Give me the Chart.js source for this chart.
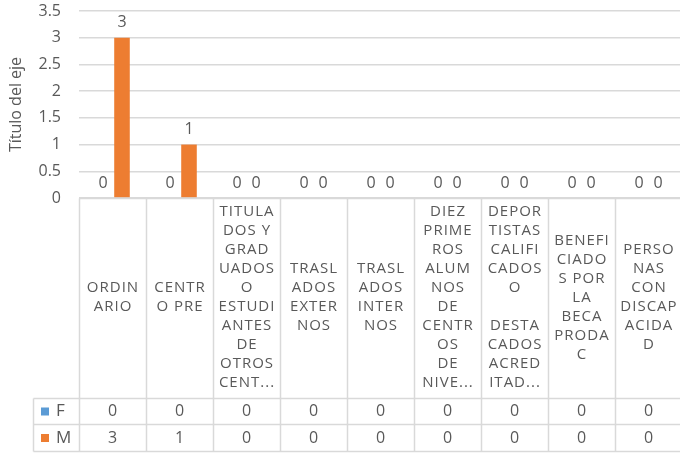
<!DOCTYPE html>
<html>
<head>
<meta charset="utf-8">
<script src="https://cdn.jsdelivr.net/npm/chart.js@4.4.0/dist/chart.umd.min.js"></script>
<style>
html, body { margin: 0; padding: 0; background: #fff; overflow: hidden; }
#wrap { width: 684px; height: 456px; }
</style>
</head>
<body>
<div id="wrap"><canvas id="bars" width="684" height="456"></canvas></div>
<script>
// categories as Excel wrapped them inside the data table
var categories = [
    ['ORDIN', 'ARIO'],
    ['CENTR', 'O PRE'],
    ['TITULA', 'DOS Y', 'GRAD', 'UADOS', 'O', 'ESTUDI', 'ANTES', 'DE', 'OTROS', 'CENT...'],
    ['TRASL', 'ADOS', 'EXTER', 'NOS'],
    ['TRASL', 'ADOS', 'INTER', 'NOS'],
    ['DIEZ', 'PRIME', 'ROS', 'ALUM', 'NOS', 'DE', 'CENTR', 'OS', 'DE', 'NIVE...'],
    ['DEPOR', 'TISTAS', 'CALIFI', 'CADOS', 'O', '', 'DESTA', 'CADOS', 'ACRED', 'ITAD...'],
    ['BENEFI', 'CIADO', 'S POR', 'LA', 'BECA', 'PRODA', 'C'],
    ['PERSO', 'NAS', 'CON', 'DISCAP', 'ACIDA', 'D']
];
var seriesNames = ['F', 'M'];
var valuesF = [0, 0, 0, 0, 0, 0, 0, 0, 0];
var valuesM = [3, 1, 0, 0, 0, 0, 0, 0, 0];
var axisTitle = 'Título del eje';

var FONT = '"Open Sans", sans-serif';
var GREY = '#595959';
var LINE = '#d9d9d9';
var colors = ['#5B9BD5', '#ED7D31'];

// value labels over each bar
var barLabels = {
    id: 'barLabels',
    afterDatasetsDraw: function (chart) {
        var ctx = chart.ctx;
        ctx.save();
        ctx.font = '16px ' + FONT;
        ctx.fillStyle = GREY;
        ctx.textAlign = 'center';
        ctx.textBaseline = 'middle';
        chart.data.datasets.forEach(function (ds, i) {
            chart.getDatasetMeta(i).data.forEach(function (bar, j) {
                ctx.fillText(String(ds.data[j]), bar.x, bar.y - 15);
            });
        });
        ctx.restore();
    }
};

// data table under the plot
var dataTable = {
    id: 'dataTable',
    afterDraw: function (chart) {
        var ctx = chart.ctx;
        var xs = chart.scales.x;
        var top = Math.round(chart.chartArea.bottom) + 0.5;
        var labelBottom = 398.5, rowF = 424.5, rowM = 451.5, legLeft = 33.5;
        var n = categories.length;
        var w = (xs.right - xs.left) / n;
        ctx.save();
        ctx.strokeStyle = LINE;
        ctx.lineWidth = 1.5;
        ctx.beginPath();
        ctx.moveTo(xs.left, top); ctx.lineTo(xs.right, top);
        [labelBottom, rowF, rowM].forEach(function (y) {
            ctx.moveTo(legLeft, y); ctx.lineTo(xs.right, y);
        });
        for (var i = 0; i <= n; i++) {
            var x = Math.round(xs.left + i * w) + 0.5;
            ctx.moveTo(x, top); ctx.lineTo(x, rowM);
        }
        ctx.moveTo(legLeft, labelBottom); ctx.lineTo(legLeft, rowM);
        ctx.stroke();

        ctx.fillStyle = GREY;
        ctx.font = '15px ' + FONT;
        ctx.letterSpacing = '1px';
        ctx.textAlign = 'center';
        ctx.textBaseline = 'middle';
        var lh = 19;
        var mid = (top + labelBottom) / 2 - 1;
        categories.forEach(function (lines, i) {
            var cx = xs.getPixelForValue(i) + 0.5;
            var y0 = mid - (lines.length - 1) * lh / 2;
            lines.forEach(function (t, k) {
                ctx.fillText(t, cx, y0 + k * lh);
            });
        });
        ctx.letterSpacing = '0px';

        var rows = [valuesF, valuesM];
        var rowMid = [(labelBottom + rowF) / 2, (rowF + rowM) / 2];
        rows.forEach(function (vals, r) {
            ctx.font = '16px ' + FONT;
            ctx.textAlign = 'center';
            vals.forEach(function (v, i) {
                ctx.fillText(String(v), xs.getPixelForValue(i), rowMid[r]);
            });
            ctx.fillStyle = colors[r];
            ctx.fillRect(41, rowMid[r] - 4, 8, 8);
            ctx.fillStyle = GREY;
            ctx.textAlign = 'left';
            ctx.font = '17px ' + FONT;
            ctx.fillText(seriesNames[r], 56, rowMid[r]);
        });
        ctx.restore();
    }
};

var bars = new Chart(document.getElementById('bars'), {
    type: 'bar',
    data: {
        labels: categories,
        datasets: [{
            label: seriesNames[0],
            data: valuesF,
            backgroundColor: colors[0]
        }, {
            label: seriesNames[1],
            data: valuesM,
            backgroundColor: colors[1]
        }]
    },
    options: {
        responsive: false,
        animation: false,
        layout: {
            padding: { top: 11, bottom: 258, left: 0, right: 2 }
        },
        datasets: {
            bar: { categoryPercentage: 0.567, barPercentage: 0.82 }
        },
        scales: {
            x: { display: false },
            y: {
                min: 0,
                max: 3.5,
                afterFit: function (scale) {
                    scale.width = 79;
                    scale.paddingTop = 0;
                    scale.paddingBottom = 0;
                },
                ticks: {
                    stepSize: 0.5,
                    padding: 18,
                    color: GREY,
                    font: { family: FONT, size: 16 },
                    callback: function (v) { return String(v); }
                },
                grid: { color: LINE, lineWidth: 1.5, drawTicks: false },
                border: { display: false },
                title: {
                    display: true,
                    text: axisTitle,
                    color: GREY,
                    font: { family: FONT, size: 16 },
                    padding: { top: 7, bottom: 0 }
                }
            }
        },
        plugins: {
            legend: { display: false },
            tooltip: { enabled: false }
        }
    },
    plugins: [barLabels, dataTable]
});
</script>
</body>
</html>
